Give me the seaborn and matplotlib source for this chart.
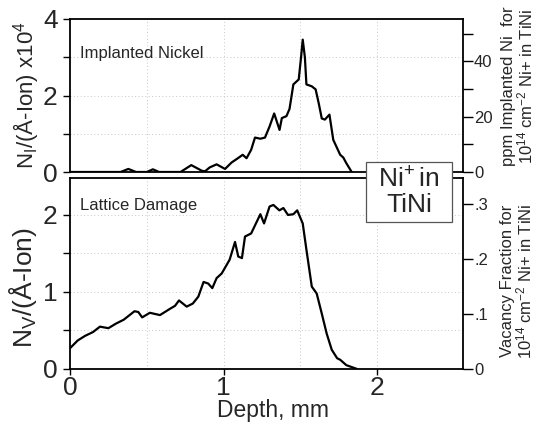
import matplotlib
matplotlib.use("Agg")
import matplotlib.pyplot as plt
from matplotlib.patches import Rectangle
import numpy as np
import pandas as pd
import seaborn as sns

# ---------------- data ----------------
ni_depth = [0.00, 0.33, 0.38, 0.43, 0.50, 0.54, 0.58, 0.72, 0.79, 0.86, 0.88, 0.91,
            0.955, 1.01, 1.053, 1.09, 1.125, 1.15, 1.18, 1.205, 1.24, 1.27, 1.30,
            1.33, 1.365, 1.38, 1.41, 1.43, 1.455, 1.49, 1.505, 1.516, 1.53, 1.54,
            1.575, 1.60, 1.62, 1.64, 1.66, 1.69, 1.715, 1.76, 1.78, 1.80, 1.835]
ni_conc = [0.00, 0.00, 0.08, 0.00, 0.00, 0.07, 0.00, 0.00, 0.18, 0.03, 0.02, 0.12,
           0.20, 0.08, 0.25, 0.35, 0.45, 0.36, 0.58, 0.90, 0.87, 0.90, 1.19,
           1.53, 1.10, 1.41, 1.46, 1.65, 2.29, 2.42, 3.00, 3.46, 3.00, 2.29,
           2.24, 2.16, 1.80, 1.40, 1.37, 1.50, 0.84, 0.45, 0.38, 0.23, 0.00]

vac_depth = [0.00, 0.05, 0.098, 0.15, 0.195, 0.25, 0.30, 0.35, 0.42, 0.445, 0.47,
             0.52, 0.586, 0.65, 0.684, 0.71, 0.76, 0.80, 0.836, 0.87, 0.90, 0.927,
             0.955, 0.988, 1.02, 1.04, 1.075, 1.096, 1.12, 1.14, 1.18, 1.216, 1.24,
             1.264, 1.30, 1.325, 1.364, 1.39, 1.42, 1.455, 1.48, 1.516, 1.54, 1.575,
             1.607, 1.64, 1.672, 1.705, 1.74, 1.76, 1.80, 1.87]
vac_conc = [0.27, 0.37, 0.43, 0.48, 0.55, 0.53, 0.59, 0.64, 0.75, 0.74, 0.67,
            0.73, 0.70, 0.78, 0.82, 0.89, 0.81, 0.85, 0.94, 1.13, 1.11, 1.05,
            1.18, 1.24, 1.35, 1.42, 1.65, 1.46, 1.44, 1.72, 1.76, 1.91, 2.01,
            1.89, 2.11, 2.13, 2.06, 2.09, 2.00, 2.01, 2.06, 1.89, 1.55, 1.07,
            0.98, 0.72, 0.46, 0.25, 0.14, 0.12, 0.05, 0.00]

x_ticks = [0, 1, 2]
top_left_ticks = [0, 1, 2, 3, 4]
top_left_labels = ["0", "", "2", "", "4"]
top_right_ticks = [0, 10, 20, 30, 40, 50]
top_right_labels = ["0", "", "20", "", "40", ""]
bot_left_ticks = [0, 0.5, 1, 1.5, 2]
bot_left_labels = ["0", "", "1", "", "2"]
bot_right_ticks = [0, 0.1, 0.2, 0.3]
bot_right_labels = ["0", ".1", ".2", ".3"]

ppm_per_unit = 13.82      # right-axis scale, top panel
frac_per_unit = 0.14      # right-axis scale, bottom panel

ni_df = pd.DataFrame({"depth": ni_depth, "conc": ni_conc})
vac_df = pd.DataFrame({"depth": vac_depth, "conc": vac_conc})

# ---------------- style ----------------
sns.set_theme(style="white")
plt.rcParams["font.family"] = ["Liberation Sans", "DejaVu Sans"]
plt.rcParams["mathtext.fontset"] = "custom"
plt.rcParams["mathtext.rm"] = "Liberation Sans"
plt.rcParams["mathtext.it"] = "Liberation Sans"
plt.rcParams["mathtext.bf"] = "Liberation Sans"

W, H = 534, 422
fig = plt.figure(figsize=(W / 100, H / 100), dpi=100)
fig.patch.set_facecolor("white")

L, R = 70, 463
ax1 = fig.add_axes([L / W, 1 - 172 / H, (R - L) / W, (172 - 19) / H])
ax2 = fig.add_axes([L / W, 1 - 369 / H, (R - L) / W, (369 - 178) / H])

XMAX = 2.56
grid_kw = dict(color="#c8c8c8", lw=0.7, ls=(0, (1, 2.5)))

for ax in (ax1, ax2):
    ax.set_xlim(0, XMAX)
    for s in ax.spines.values():
        s.set_color("black")
        s.set_linewidth(1.3)
    for gx in [0.5, 1.0, 1.5, 2.0]:
        ax.axvline(gx, **grid_kw, zorder=0)
    ax.grid(False)

# top panel
sns.lineplot(data=ni_df, x="depth", y="conc", ax=ax1, color="black", lw=1.6,
             estimator=None, sort=False)
ax1.set_ylim(0, 4)
for gy in [1, 2, 3]:
    ax1.axhline(gy, **grid_kw, zorder=0)
ax1.set_yticks(top_left_ticks)
ax1.set_yticklabels(top_left_labels)
ax1.set_xticks([])
ax1.set_xlabel("")
ax1.set_ylabel(r"N$_{\rm I}$/($\rm\AA$-Ion) x10$^{4}$", fontsize=16)
ax1.yaxis.set_label_coords(-0.074, 0.5)
ax1.tick_params(axis="y", direction="out", length=5, width=1, labelsize=19,
                left=True, pad=4, color="black")
ax1.text(0.065, 3.1, "Implanted Nickel", fontsize=12, va="center", ha="left")

ax1r = ax1.twinx()
ax1r.set_ylim(0, 4 * ppm_per_unit)
ax1r.set_yticks(top_right_ticks)
ax1r.set_yticklabels(top_right_labels)
ax1r.tick_params(axis="y", direction="out", length=7, width=1, labelsize=12,
                 right=True, pad=1, color="black")
ax1r.grid(False)
for s in ax1r.spines.values():
    s.set_visible(False)

# bottom panel
sns.lineplot(data=vac_df, x="depth", y="conc", ax=ax2, color="black", lw=1.6,
             estimator=None, sort=False)
YB = 2.48
ax2.set_ylim(0, YB)
for gy in [0.5, 1.0, 1.5, 2.0]:
    ax2.axhline(gy, **grid_kw, zorder=0)
ax2.set_yticks(bot_left_ticks)
ax2.set_yticklabels(bot_left_labels)
ax2.set_xticks(x_ticks)
ax2.set_xticklabels([str(t) for t in x_ticks])
ax2.tick_params(axis="x", direction="out", length=4, width=1, labelsize=19,
                bottom=True, pad=1, color="black")
ax2.tick_params(axis="y", direction="out", length=5, width=1, labelsize=19,
                left=True, pad=4, color="black")
ax2.set_xlabel("Depth, mm", fontsize=16.5)
ax2.xaxis.label.set_va("center")
ax2.xaxis.set_label_coords((273 - L) / (R - L), -(411 - 369) / (369 - 178))
ax2.set_ylabel(r"N$_{\rm V}$/($\rm\AA$-Ion)", fontsize=19)
ax2.yaxis.set_label_coords(-0.078, 0.424)
ax2.text(0.065, 2.12, "Lattice Damage", fontsize=12, va="center", ha="left")

ax2r = ax2.twinx()
ax2r.set_ylim(0, YB * frac_per_unit)
ax2r.set_yticks(bot_right_ticks)
ax2r.set_yticklabels(bot_right_labels)
ax2r.tick_params(axis="y", direction="out", length=7, width=1, labelsize=12,
                 right=True, pad=1, color="black")
ax2r.grid(False)
for s in ax2r.spines.values():
    s.set_visible(False)

# right-side axis titles
fig.text(518 / W, 1 - 86 / H,
         "ppm Implanted Ni  for\n10$^{14}$ cm$^{-2}$ Ni+ in TiNi",
         rotation=90, ha="center", va="center", fontsize=12, linespacing=0.95,
         multialignment="center")
fig.text(517 / W, 1 - 281 / H,
         "Vacancy Fraction for\n10$^{14}$ cm$^{-2}$ Ni+ in TiNi",
         rotation=90, ha="center", va="center", fontsize=12, linespacing=0.95,
         multialignment="center")

# "Ni+ in TiNi" box
box = Rectangle((366 / W, 1 - 222 / H), (452 - 366) / W, (222 - 162) / H,
                transform=fig.transFigure, facecolor="white", edgecolor="#555555",
                lw=0.9, zorder=5)
fig.patches.append(box)
fig.text(409 / W, 1 - 192 / H, "Ni$^{+}\\,$in\nTiNi", ha="center", va="center",
         fontsize=19, linespacing=1.0, zorder=6)

fig.savefig("out.png", dpi=100, facecolor="white")
